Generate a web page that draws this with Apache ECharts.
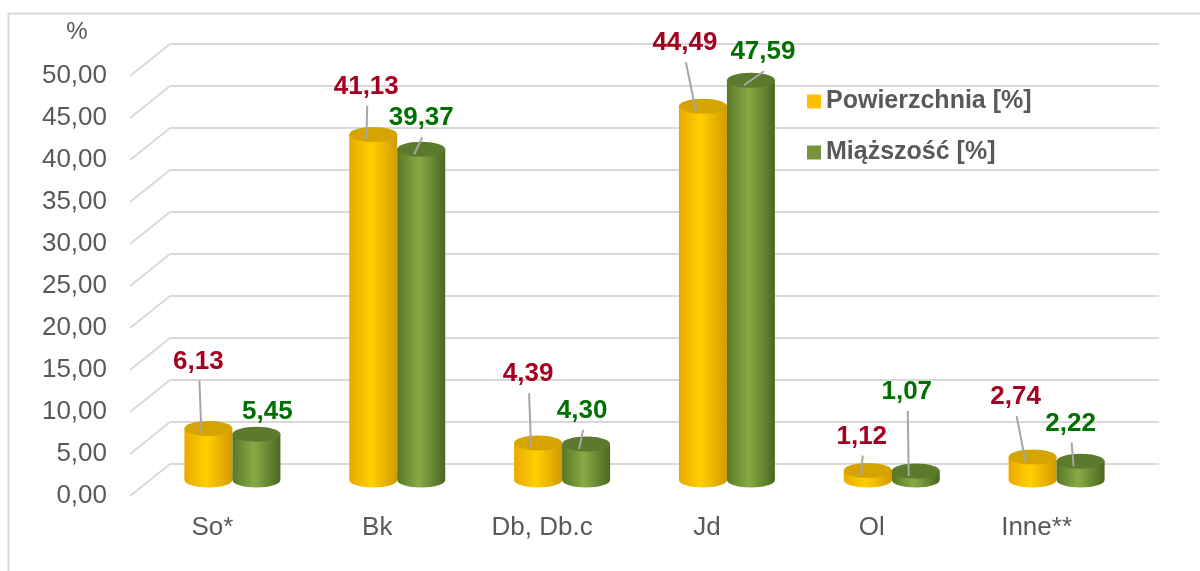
<!DOCTYPE html>
<html>
<head>
<meta charset="utf-8">
<script src="https://cdn.jsdelivr.net/npm/echarts@6/dist/echarts.min.js"></script>
<style>
  html, body { margin: 0; padding: 0; background: #fff; }
  #chart { width: 1200px; height: 571px; }
</style>
</head>
<body>
<div id="chart"></div>
<script>
// data
var categories = ['So*', 'Bk', 'Db, Db.c', 'Jd', 'Ol', 'Inne**'];
var powierzchnia = [6.13, 41.13, 4.39, 44.49, 1.12, 2.74];
var miazszosc = [5.45, 39.37, 4.30, 47.59, 1.07, 2.22];
var yTicks = [0, 5, 10, 15, 20, 25, 30, 35, 40, 45, 50];

// where each value label sits, relative to the top of its cylinder
var labelShiftP = [[-10, -67], [-7, -48], [-10, -69], [-18, -63], [-6, -34], [-17, -60]];
var labelShiftM = [[11, -22], [0, -31], [-4, -33], [12, -28], [-9, -79], [-10, -38]];

var FONT = '"Liberation Sans", Arial, sans-serif';
var DEPTH_X = 40, DEPTH_Y = -32;   // pseudo 3D depth of the back wall

function fmt(v) {
  return v.toFixed(2).replace('.', ',');
}

function cylinder(side, colors, labelColor, shifts) {
  return function (params, api) {
    var idx = api.value(0);
    var v = api.value(1);
    var base = api.coord([idx, 0]);
    var top = api.coord([idx, v]);
    var band = api.size([1, 0])[0];
    var rx = band * 0.1456;
    var ry = 7.5;
    var cx = base[0] + side * rx + DEPTH_X / 2;
    var yb = base[1] + DEPTH_Y / 2;
    var yt = top[1] + DEPTH_Y / 2;
    var body = {
      type: 'linear', x: 0, y: 0, x2: 1, y2: 0,
      colorStops: [
        {offset: 0, color: colors[0]},
        {offset: 0.45, color: colors[1]},
        {offset: 1, color: colors[2]}
      ]
    };
    var sh = shifts[params.dataIndex];
    var tx = cx + sh[0], ty = yt + sh[1];
    var children = [
      {type: 'ellipse', shape: {cx: cx, cy: yb, rx: rx, ry: ry}, style: {fill: body}},
      {type: 'rect', shape: {x: cx - rx, y: yt, width: rx * 2, height: yb - yt}, style: {fill: body}},
      {type: 'ellipse', shape: {cx: cx, cy: yt, rx: rx, ry: ry}, style: {fill: colors[3]}}
    ];
    var lx1 = tx + 1, ly1 = ty + 19, lx2 = cx - 7, ly2 = yt + 5;
    if (ly2 - ly1 > 10) {
      children.push({
        type: 'line',
        shape: {x1: lx1, y1: ly1, x2: lx2, y2: ly2},
        style: {stroke: '#a6a6a6', lineWidth: 2}
      });
    }
    children.push({
      type: 'text', x: tx, y: ty,
      style: {
        text: fmt(v), fill: labelColor,
        font: 'bold 26px ' + FONT,
        align: 'center', verticalAlign: 'middle'
      }
    });
    return {type: 'group', children: children};
  };
}

var dom = document.getElementById('chart');
var myChart = echarts.init(dom);

var option = {
  animation: false,
  color: ['#FFC000', '#77933C'],
  graphic: [{
    type: 'rect', left: 6, top: 11, z: -10,
    shape: {width: 1210, height: 600},
    style: {fill: 'none', stroke: '#d9d9d9', lineWidth: 2}
  }],
  legend: {
    data: ['Powierzchnia [%]', 'Miąższość [%]'],
    orient: 'vertical',
    left: 802,
    top: 84,
    itemWidth: 14,
    itemHeight: 14,
    itemGap: 26,
    icon: 'rect',
    textStyle: {color: '#595959', fontSize: 25, fontWeight: 'bold', fontFamily: FONT}
  },
  grid: [
    {left: 130, right: 81, top: 76, bottom: 75},
    {left: 170, right: 41, top: 44, bottom: 107}
  ],
  xAxis: [
    {
      type: 'category', gridIndex: 0, data: categories,
      axisLine: {show: false}, axisTick: {show: false},
      axisLabel: {color: '#595959', fontSize: 26, fontFamily: FONT, margin: 19}
    },
    {type: 'category', gridIndex: 1, data: categories, show: false}
  ],
  yAxis: [
    {
      type: 'value', gridIndex: 0, min: 0, max: 50, interval: 5,
      name: '%', nameLocation: 'end', nameGap: 44,
      nameTextStyle: {
        color: '#595959', fontSize: 24, fontFamily: FONT,
        align: 'center', verticalAlign: 'middle', padding: [0, 106, 0, 0]
      },
      axisLine: {show: false}, axisTick: {show: false}, splitLine: {show: false},
      axisLabel: {color: '#595959', fontSize: 26, fontFamily: FONT, margin: 23, formatter: fmt}
    },
    {
      type: 'value', gridIndex: 1, min: 0, max: 50, interval: 5,
      axisLine: {show: false}, axisTick: {show: false}, axisLabel: {show: false},
      splitLine: {lineStyle: {color: '#d9d9d9', width: 2}}
    }
  ],
  series: [
    {
      name: 'wall',
      type: 'custom',
      xAxisIndex: 0, yAxisIndex: 0,
      silent: true,
      data: yTicks.map(function (t) { return [0, t]; }),
      renderItem: function (params, api) {
        var y = api.coord([0, api.value(1)])[1];
        var x0 = params.coordSys.x;
        return {
          type: 'line',
          shape: {x1: x0, y1: y, x2: x0 + DEPTH_X, y2: y + DEPTH_Y},
          style: {stroke: '#d9d9d9', lineWidth: 2}
        };
      }
    },
    {
      name: 'Powierzchnia [%]',
      type: 'custom',
      xAxisIndex: 0, yAxisIndex: 0,
      itemStyle: {color: '#FFC000'},
      data: powierzchnia.map(function (v, i) { return [i, v]; }),
      renderItem: cylinder(-1, ['#E9A900', '#FFD000', '#D49A00', '#D6A400'], '#A50021', labelShiftP)
    },
    {
      name: 'Miąższość [%]',
      type: 'custom',
      xAxisIndex: 0, yAxisIndex: 0,
      itemStyle: {color: '#77933C'},
      data: miazszosc.map(function (v, i) { return [i, v]; }),
      renderItem: cylinder(1, ['#587826', '#88AA46', '#4B6820', '#5C7A2E'], '#007000', labelShiftM)
    }
  ]
};

if (option && typeof option === 'object') {
  myChart.setOption(option, true);
}
</script>
</body>
</html>
